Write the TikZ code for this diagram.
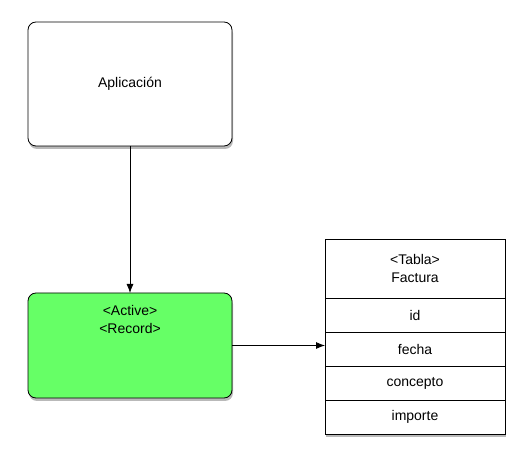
\documentclass[tikz,border=0pt]{standalone}
\usepackage{fontspec}
\setmainfont{Liberation Sans}
\usetikzlibrary{positioning,shadows,arrows.meta}
\definecolor{argreen}{HTML}{66FF66}
\tikzset{
  shade box/.style={drop shadow={shadow xshift=1pt, shadow yshift=-3pt, opacity=0.55}},
  box/.style={draw, rounded corners=8pt, line width=0.8pt, fill=white,
    minimum width=204pt, inner sep=0pt, outer sep=0pt, shade box},
  cell/.style={draw, line width=0.8pt, fill=white, minimum width=180pt,
    minimum height=34pt, inner sep=0pt, outer sep=0pt, align=center},
  link/.style={line width=0.8pt, -{Latex[length=9pt,width=7pt]}}
}
\begin{document}
\begin{tikzpicture}[x=1pt, y=-1pt, font=\fontsize{14}{18}\selectfont]
\useasboundingbox (0,0) rectangle (531,465);
%boxes
\node[box, minimum height=124pt] (app) at (130,84) {Aplicación};
\node[box, fill=argreen, minimum height=105pt,
  label={[anchor=north, yshift=-9pt, align=center]north:{<Active>\\<Record>}}] (ar) at (130,345.5) {};
%table
\node[cell, minimum height=59pt, shade box] (tabla) at (415,268.5) {<Tabla>\\Factura};
\node[cell, below=0pt of tabla] (id) {id};
\node[cell, below=0pt of id] (fecha) {fecha};
\node[cell, below=0pt of fecha] (concepto) {concepto};
\node[cell, below=0pt of concepto, shade box] (importe) {importe};
%links
\draw[link] (app) -- (ar);
\draw[link] (ar.east) -- (ar.east -| fecha.west);
\end{tikzpicture}
\end{document}
